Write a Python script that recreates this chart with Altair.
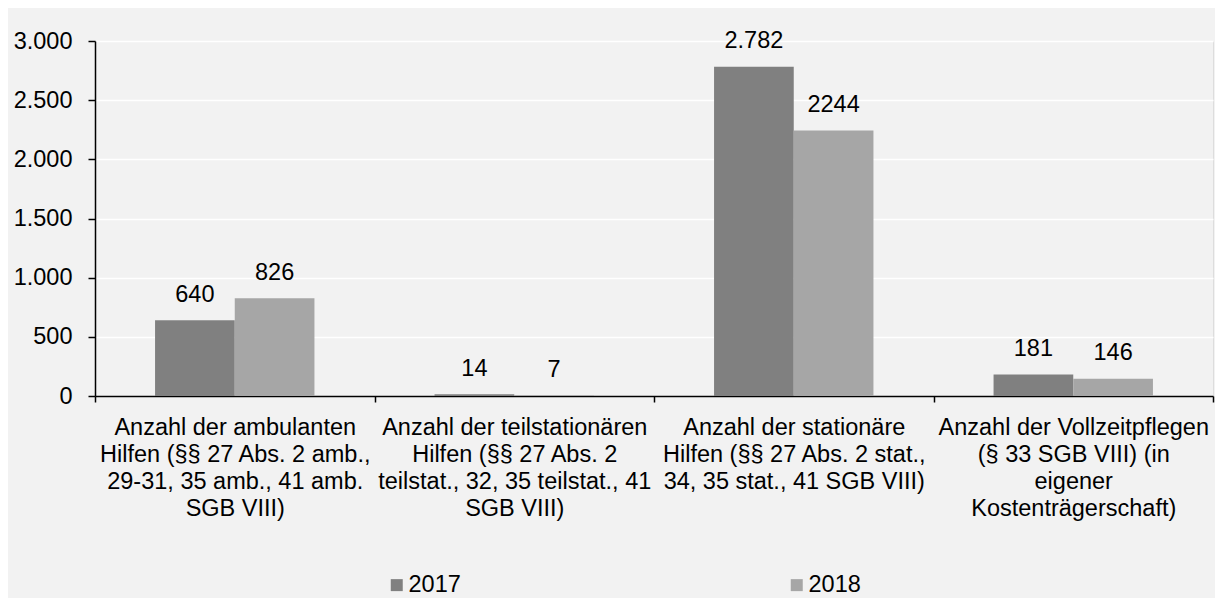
import altair as alt
import pandas as pd

categories = [
    "Anzahl der ambulanten|Hilfen (§§ 27 Abs. 2 amb.,|29-31, 35 amb., 41 amb.|SGB VIII)",
    "Anzahl der teilstationären|Hilfen (§§ 27 Abs. 2|teilstat., 32, 35 teilstat., 41|SGB VIII)",
    "Anzahl der stationäre|Hilfen (§§ 27 Abs. 2 stat.,|34, 35 stat., 41 SGB VIII)",
    "Anzahl der Vollzeitpflegen|(§ 33 SGB VIII) (in|eigener|Kostenträgerschaft)",
]
years = ["2017", "2018"]
values_2017 = [640, 14, 2782, 181]
values_2018 = [826, 7, 2244, 146]
labels_2017 = ["640", "14", "2.782", "181"]
labels_2018 = ["826", "7", "2244", "146"]
colors = ["#808080", "#a6a6a6"]
y_ticks = [0, 500, 1000, 1500, 2000, 2500, 3000]

rows = []
for c, v, l in zip(categories, values_2017, labels_2017):
    rows.append({"cat": c, "year": "2017", "value": v, "label": l})
for c, v, l in zip(categories, values_2018, labels_2018):
    rows.append({"cat": c, "year": "2018", "value": v, "label": l})
df = pd.DataFrame(rows)

FONT = "Liberation Sans"
FS = 23.5

base = alt.Chart(df).encode(
    x=alt.X(
        "cat:N",
        sort=categories,
        scale=alt.Scale(paddingInner=0, paddingOuter=0),
        axis=alt.Axis(
            title=None,
            labelExpr="isValid(datum.value) ? split(datum.value, '|') : ''",
            labelAngle=0,
            tickBand="extent",
            labelBaseline="top",
            labelLineHeight=27.3,
            labelPadding=13,
            labelLimit=400,
            labelOverlap=False,
            labelFontSize=FS,
            labelFont=FONT,
            labelColor="black",
            domainColor="black",
            domainWidth=1.5,
            tickColor="black",
            tickWidth=1.5,
            tickSize=6,
            grid=False,
        ),
    ),
    xOffset=alt.XOffset(
        "year:N", sort=years, scale=alt.Scale(paddingInner=0, paddingOuter=0.7535)
    ),
    y=alt.Y(
        "value:Q",
        scale=alt.Scale(domain=[0, 3000], nice=False),
        axis=alt.Axis(
            title=None,
            values=y_ticks,
            labelExpr="replace(format(datum.value, ','), ',', '.')",
            labelFontSize=FS,
            labelFont=FONT,
            labelColor="black",
            labelPadding=16,
            tickSize=7,
            tickColor="black",
            tickWidth=1.5,
            domainColor="black",
            domainWidth=1.5,
            grid=True,
            gridColor="white",
            gridWidth=1.5,
        ),
    ),
)

bars = base.mark_bar().encode(
    color=alt.Color(
        "year:N",
        sort=years,
        scale=alt.Scale(domain=years, range=colors),
        legend=alt.Legend(
            title=None,
            orient="none",
            legendX=290,
            legendY=532,
            direction="horizontal",
            columnPadding=324,
            symbolType="square",
            symbolSize=144,
            symbolStrokeWidth=0,
            labelOffset=0,
            padding=0,
            labelFontSize=FS,
            labelFont=FONT,
            labelColor="black",
        ),
    )
)

text = base.mark_text(
    dy=-25.5, baseline="middle", fontSize=FS, font=FONT, color="black"
).encode(text="label:N")

chart = (
    alt.layer(bars, text)
    .properties(
        width=1118,
        height=355,
        autosize=alt.AutoSizeParams(type="none"),
        padding={"left": 87, "top": 33, "right": 2, "bottom": 202},
        background="#f2f2f2",
    )
    .configure_view(stroke=None)
    .configure(font=FONT)
)

chart.save("out.html", embed_options={"renderer": "svg", "actions": False})
